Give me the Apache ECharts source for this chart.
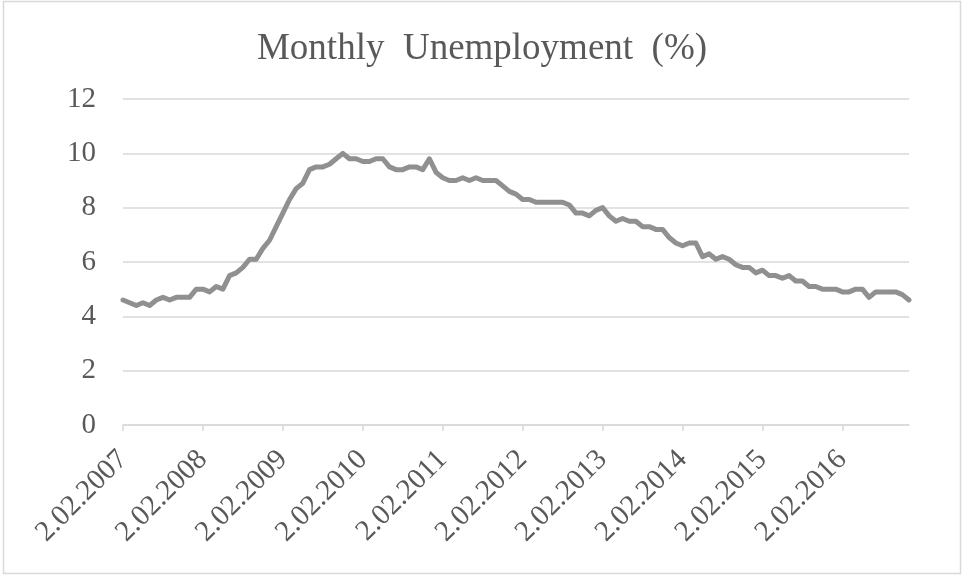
<!DOCTYPE html>
<html>
<head>
<meta charset="UTF-8">
<title>Monthly Unemployment</title>
<script src="https://cdn.jsdelivr.net/npm/echarts@6/dist/echarts.min.js"></script>
<style>
html, body { margin: 0; padding: 0; background: #fff; }
#chart { width: 964px; height: 577px; }
</style>
</head>
<body>
<div id="chart"></div>
<script type="text/javascript">
// one value per month, first point is the 2.02.2007 tick
var firstYear = 2007;
var rate2007 = [4.6, 4.5, 4.4, 4.5, 4.4, 4.6, 4.7, 4.6, 4.7, 4.7, 4.7, 5.0];
var rate2008 = [5.0, 4.9, 5.1, 5.0, 5.5, 5.6, 5.8, 6.1, 6.1, 6.5, 6.8, 7.3];
var rate2009 = [7.8, 8.3, 8.7, 8.9, 9.4, 9.5, 9.5, 9.6, 9.8, 10.0, 9.8, 9.8];
var rate2010 = [9.7, 9.7, 9.8, 9.8, 9.5, 9.4, 9.4, 9.5, 9.5, 9.4, 9.8, 9.3];
var rate2011 = [9.1, 9.0, 9.0, 9.1, 9.0, 9.1, 9.0, 9.0, 9.0, 8.8, 8.6, 8.5];
var rate2012 = [8.3, 8.3, 8.2, 8.2, 8.2, 8.2, 8.2, 8.1, 7.8, 7.8, 7.7, 7.9];
var rate2013 = [8.0, 7.7, 7.5, 7.6, 7.5, 7.5, 7.3, 7.3, 7.2, 7.2, 6.9, 6.7];
var rate2014 = [6.6, 6.7, 6.7, 6.2, 6.3, 6.1, 6.2, 6.1, 5.9, 5.8, 5.8, 5.6];
var rate2015 = [5.7, 5.5, 5.5, 5.4, 5.5, 5.3, 5.3, 5.1, 5.1, 5.0, 5.0, 5.0];
var rate2016 = [4.9, 4.9, 5.0, 5.0, 4.7, 4.9, 4.9, 4.9, 4.9, 4.8, 4.6];
var yTicks = [0, 2, 4, 6, 8, 10, 12];

var rates = [].concat(rate2007, rate2008, rate2009, rate2010, rate2011,
                      rate2012, rate2013, rate2014, rate2015, rate2016);

// dates on the axis: 2.MM.YYYY, starting february 2007
var dates = [];
for (var i = 0; i < rates.length; i++) {
	var m = 1 + i;
	var yy = firstYear + Math.floor(m / 12);
	var mm = (m % 12) + 1;
	dates.push('2.' + (mm < 10 ? '0' + mm : mm) + '.' + yy);
}

var myChart = echarts.init(document.getElementById('chart'));
var option = {
	animation: false,
	backgroundColor: '#ffffff',
	title: {
		text: 'Monthly  Unemployment  (%)',
		left: 'center',
		top: 26,
		textStyle: {
			fontFamily: 'Liberation Serif',
			fontSize: 37,
			fontWeight: 'normal',
			color: '#595959'
		}
	},
	graphic: [{
		type: 'rect',
		shape: { x: 3.5, y: 1.5, width: 957, height: 572 },
		style: { fill: 'none', stroke: '#d9d9d9', lineWidth: 1.5 },
		silent: true
	}],
	grid: { left: 123, right: 55, top: 99, bottom: 152, containLabel: false },
	xAxis: {
		type: 'category',
		data: dates,
		boundaryGap: false,
		axisLine: { lineStyle: { color: '#d9d9d9', width: 1.5 } },
		axisTick: { show: true, interval: 11, length: 6, lineStyle: { color: '#d9d9d9', width: 1.5 } },
		axisLabel: {
			interval: 11,
			rotate: 45,
			margin: 30,
			fontFamily: 'Liberation Serif',
			fontSize: 29,
			color: '#595959'
		},
		splitLine: { show: false }
	},
	yAxis: {
		type: 'value',
		min: yTicks[0],
		max: yTicks[yTicks.length - 1],
		interval: 2,
		axisLine: { show: false },
		axisTick: { show: false },
		axisLabel: {
			margin: 27,
			fontFamily: 'Liberation Serif',
			fontSize: 29,
			color: '#595959'
		},
		splitLine: { lineStyle: { color: '#d9d9d9', width: 1.5 } }
	},
	series: [{
		name: 'Unemployment',
		type: 'line',
		data: rates,
		showSymbol: false,
		lineStyle: { color: '#909090', width: 5, join: 'round', cap: 'round' }
	}]
};
myChart.setOption(option);
</script>
</body>
</html>
